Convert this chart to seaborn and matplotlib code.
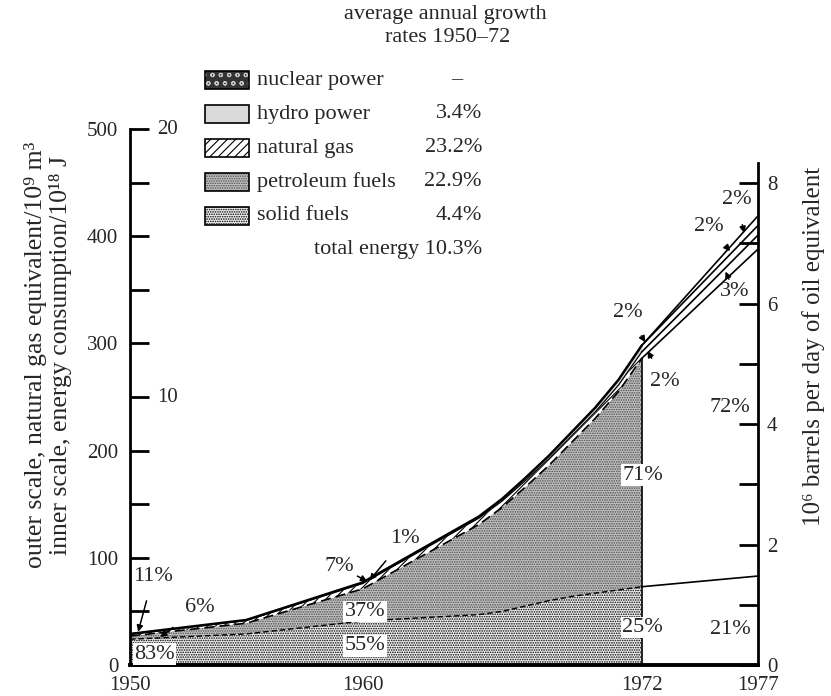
import numpy as np
import pandas as pd
import seaborn as sns
import matplotlib.pyplot as plt
from matplotlib.patches import Rectangle

# stacked energy sources (outer scale, 10^9 m3 natural gas equivalent)
years = [1950, 1955, 1960, 1965, 1966, 1967, 1968, 1969, 1970, 1971, 1972]
solid_fuels = [24, 29, 41, 47, 50, 55, 60, 64, 67, 70, 73]
petroleum = [3, 10, 30, 84, 97, 111, 126, 144, 163, 185, 213]
natural_gas = [1.7, 2.5, 5, 6, 6, 6, 6, 6, 6, 6, 6]
hydro = [0.3, 0.5, 1, 1.5, 2, 2.5, 3, 3.5, 4, 5, 6]

# projection 1972 -> 1977 (lines only)
proj_years = [1972, 1977]
proj_solid = [73, 83]
proj_petroleum = [213, 305]
proj_gas = [6, 13]
proj_hydro = [6, 9]
proj_nuclear = [0, 9]

legend_labels = ['nuclear power', 'hydro power', 'natural gas', 'petroleum fuels', 'solid fuels']
growth_rates = ['–', '3.4%', '23.2%', '22.9%', '4.4%']
total_growth = 'total energy 10.3%'

share_labels = ['11%', '6%', '83%', '7%', '1%', '37%', '55%', '2%', '2%', '71%', '25%',
                '2%', '2%', '3%', '72%', '21%']

inner_ticks = [10, 20]
year_ticks = [1950, 1960, 1972, 1977]

# layout of share labels: text (x, y), arrow head (x, y) or None, white box
share_pos = [
    ((1951.0, 83), (1950.35, 31), False),
    ((1953.0, 54), (1951.3, 26), False),
    ((1951.05, 10), None, True),
    ((1959.0, 92), (1960.2, 78), False),
    ((1961.8, 118), (1960.3, 79), False),
    ((1960.1, 50), None, True),
    ((1960.1, 18), None, True),
    ((1971.4, 329), (1972.15, 301), False),
    ((1973.0, 264), (1972.25, 293), False),
    ((1972.05, 177), None, True),
    ((1972.05, 35), None, True),
    ((1976.1, 434), (1976.4, 403), False),
    ((1974.9, 409), (1975.8, 386), False),
    ((1976.0, 348), (1975.6, 367), False),
    ((1975.8, 240), None, False),
    ((1975.8, 33), None, False),
]

sns.set_theme(style='white')
plt.rcParams['font.family'] = ['Liberation Serif', 'DejaVu Serif']
plt.rcParams['hatch.linewidth'] = 0.8

W, H = 831, 696
fig = plt.figure(figsize=(W / 100, H / 100), dpi=100)
fig.patch.set_facecolor('white')
ax = fig.add_axes([130 / W, 1 - 665 / H, (758 - 130) / W, (665 - 129) / H])
ax.set_facecolor('white')

# cumulative stacks
solid = np.array(solid_fuels, dtype=float)
pet_top = solid + np.array(petroleum)
gas_top = pet_top + np.array(natural_gas)
hydro_top = gas_top + np.array(hydro)

solid_style = dict(facecolor='#f2f2f2', edgecolor='black', hatch='.......')
pet_style = dict(facecolor='#c4c4c4', edgecolor='#4a4a4a', hatch='.......')
gas_style = dict(facecolor='white', edgecolor='black', hatch='////')
hydro_style = dict(facecolor='#dadada', edgecolor='#dadada')
nuclear_style = dict(facecolor='#333333', edgecolor='#c8c8c8', hatch='oo')

fills = [
    (np.zeros_like(solid), solid, solid_style),
    (solid, pet_top, pet_style),
    (pet_top, gas_top, gas_style),
    (gas_top, hydro_top, hydro_style),
]
for lo, hi, style in fills:
    ax.fill_between(years, lo, hi, linewidth=0, **style)

sns.lineplot(x=years, y=solid, ax=ax, color='black', linewidth=1.0, linestyle=(0, (4, 2)))
sns.lineplot(x=years, y=pet_top, ax=ax, color='black', linewidth=1.2, linestyle=(0, (6, 3)))
sns.lineplot(x=years, y=gas_top, ax=ax, color='black', linewidth=0.9)
sns.lineplot(x=years, y=hydro_top, ax=ax, color='black', linewidth=1.8)
ax.vlines(years[-1], 0, pet_top[-1], color='black', linewidth=1.2)

# projection lines
p_solid = np.array(proj_solid, dtype=float)
p_pet = p_solid + np.array(proj_petroleum)
p_gas = p_pet + np.array(proj_gas)
p_hydro = p_gas + np.array(proj_hydro)
p_nuc = p_hydro + np.array(proj_nuclear)
for arr in [p_solid, p_pet, p_gas, p_hydro, p_nuc]:
    sns.lineplot(x=proj_years, y=arr, ax=ax, color='black', linewidth=1.2)

ax.set_xlim(1950, 1977)
ax.set_ylim(0, 500)
ax.set_xlabel('')
ax.set_ylabel('')

ax.spines['top'].set_visible(False)
ax.spines['right'].set_visible(False)
ax.spines['left'].set_bounds(0, 500)
ax.spines['left'].set_linewidth(2)
ax.spines['bottom'].set_linewidth(2.8)
for s in ['left', 'bottom']:
    ax.spines[s].set_color('black')

ax.set_yticks(range(0, 501, 100))
ax.set_yticks(range(50, 500, 100), minor=True)
ax.tick_params(axis='y', which='both', direction='in', length=14, width=2, color='black',
               labelsize=15, pad=8.5)
ax.set_xticks(year_ticks)
ax.tick_params(axis='x', length=0, labelsize=15, pad=8)

for v in inner_ticks:
    ax.text(1951.15, v * 25, str(v), ha='left', va='center', fontsize=15)

# right scale: 10^6 barrels per day of oil equivalent
ax2 = ax.twinx()
ax2.set_ylim(0, 500 / 56.2)
ax2.grid(False)
for side in ['top', 'left', 'bottom']:
    ax2.spines[side].set_visible(False)
ax2.spines['right'].set_bounds(0, 8.33)
ax2.spines['right'].set_linewidth(2)
ax2.spines['right'].set_color('black')
ax2.set_yticks(range(0, 9, 2))
ax2.set_yticks(range(1, 9, 2), minor=True)
ax2.tick_params(axis='y', which='both', direction='in', length=14, width=2, color='black',
                labelsize=15, pad=6.5)

for text, (pos, head, boxed) in zip(share_labels, share_pos):
    bbox = dict(facecolor='white', edgecolor='none', pad=1) if boxed else None
    if head is None:
        ax.text(pos[0], pos[1], text, ha='center', va='center', fontsize=16, bbox=bbox)
    else:
        ax.annotate(text, xy=head, xytext=pos, ha='center', va='center', fontsize=16,
                    arrowprops=dict(arrowstyle='-|>', color='black', lw=1.1,
                                    shrinkA=9, shrinkB=0, mutation_scale=9))

# axis titles
fig.text(48 / W, 1 - 355 / H,
         'outer scale, natural gas equivalent/10⁹ m³\n'
         'inner scale, energy consumption/10¹⁸ J',
         rotation=90, ha='center', va='center', fontsize=18.5, linespacing=1.1)
fig.text(814 / W, 1 - 346 / H, '10⁶ barrels per day of oil equivalent',
         rotation=90, ha='center', va='center', fontsize=18)

# legend block
fig.text(445 / W, 1 - 15 / H, 'average annual growth', ha='center', va='center', fontsize=16)
fig.text(448 / W, 1 - 38 / H, 'rates 1950–72', ha='center', va='center', fontsize=16)
swatches = [nuclear_style, hydro_style, gas_style, pet_style, solid_style]
row_y = [80, 114, 148, 182, 216]
for label, rate, sw, y in zip(legend_labels, growth_rates, swatches, row_y):
    fig.add_artist(Rectangle((205 / W, 1 - (y + 9) / H), 44 / W, 18 / H,
                             transform=fig.transFigure, linewidth=0, **sw))
    fig.add_artist(Rectangle((205 / W, 1 - (y + 9) / H), 44 / W, 18 / H,
                             transform=fig.transFigure, fill=False, edgecolor='black',
                             linewidth=1.2))
    fig.text(257 / W, 1 - y / H, label, ha='left', va='center', fontsize=16)
    if rate == '–':
        fig.text(457 / W, 1 - y / H, rate, ha='center', va='center', fontsize=16)
    else:
        fig.text(482 / W, 1 - y / H, rate, ha='right', va='center', fontsize=16)
fig.text(482 / W, 1 - 249 / H, total_growth, ha='right', va='center', fontsize=16)

fig.savefig('out.png', dpi=100, facecolor='white')
